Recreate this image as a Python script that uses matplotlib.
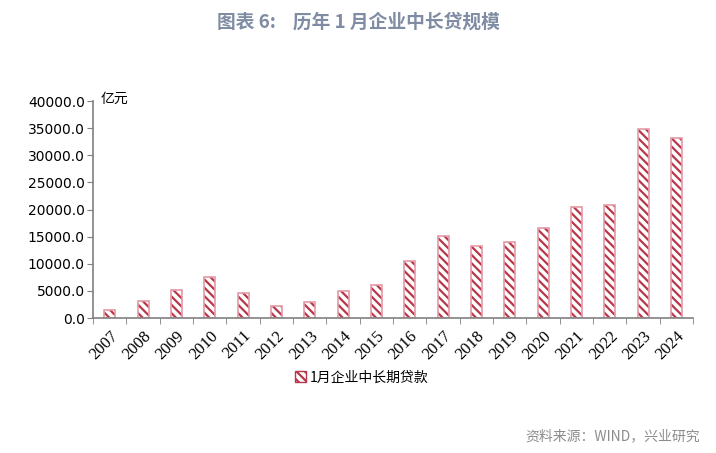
import numpy as np
import matplotlib.pyplot as plt
from matplotlib.patches import Patch

plt.rcParams['font.family'] = ['Noto Sans CJK SC', 'DejaVu Sans']
plt.rcParams['hatch.linewidth'] = 1.6

# data (亿元)
years = ['2007', '2008', '2009', '2010', '2011', '2012', '2013', '2014', '2015',
         '2016', '2017', '2018', '2019', '2020', '2021', '2022', '2023', '2024']
loans = [1400, 3100, 5250, 7500, 4700, 2300, 3000, 5000, 6150,
         10600, 15200, 13300, 14000, 16600, 20400, 20900, 34900, 33100]
yticks = [0, 5000, 10000, 15000, 20000, 25000, 30000, 35000, 40000]

red = '#B8374A'
pink = '#E49AA5'
axis_grey = '#808080'

fig = plt.figure(figsize=(7.16, 4.53), dpi=100)
ax = fig.add_axes([0.130, 0.298, 0.838, 0.479])

x = np.arange(len(years))
# hatch first, then a lighter outline on top
ax.bar(x, loans, width=0.33, color='white', edgecolor=red, hatch='\\\\\\\\', linewidth=0)
ax.bar(x, loans, width=0.33, fill=False, edgecolor=pink, linewidth=1.2)

ax.set_xlim(-0.5, len(years) - 0.5)
ax.set_ylim(0, 40000)
ax.set_yticks(yticks)
ax.set_yticklabels(['%.1f' % v for v in yticks], fontsize=10, family='DejaVu Sans')
ax.set_xticks(x)
ax.set_xticklabels(years, rotation=45, fontsize=12, family='Liberation Serif',
                   ha='right', rotation_mode='anchor')
ax.set_xticks(np.arange(len(years) + 1) - 0.5, minor=True)
ax.tick_params(axis='x', which='major', length=0, pad=7)
ax.tick_params(axis='x', which='minor', length=4, direction='out', color=axis_grey)
ax.tick_params(axis='y', length=4, direction='out', color=axis_grey, pad=2)

for s in ['top', 'right']:
    ax.spines[s].set_visible(False)
for s in ['left', 'bottom']:
    ax.spines[s].set_color(axis_grey)
    ax.spines[s].set_linewidth(1.2)

fig.text(0.14, 0.783, '亿元', fontsize=10, va='center', ha='left')

fig.text(0.5, 0.951, '图表 6:    历年 1 月企业中长贷规模', fontsize=13.5, fontweight='bold',
         color='#7F8CA3', ha='center', va='center')

handle = Patch(facecolor='white', edgecolor=red, hatch='\\\\\\\\', linewidth=1.0)
fig.legend([handle], ['1月企业中长期贷款'], loc='center', bbox_to_anchor=(0.505, 0.167),
           frameon=False, fontsize=10, handlelength=0.8, handleheight=0.8, handletextpad=0.3)

fig.text(0.978, 0.038, '资料来源：WIND，兴业研究', fontsize=10, color='#8C8C8C',
         ha='right', va='center')

fig.savefig('out.png', dpi=100)
